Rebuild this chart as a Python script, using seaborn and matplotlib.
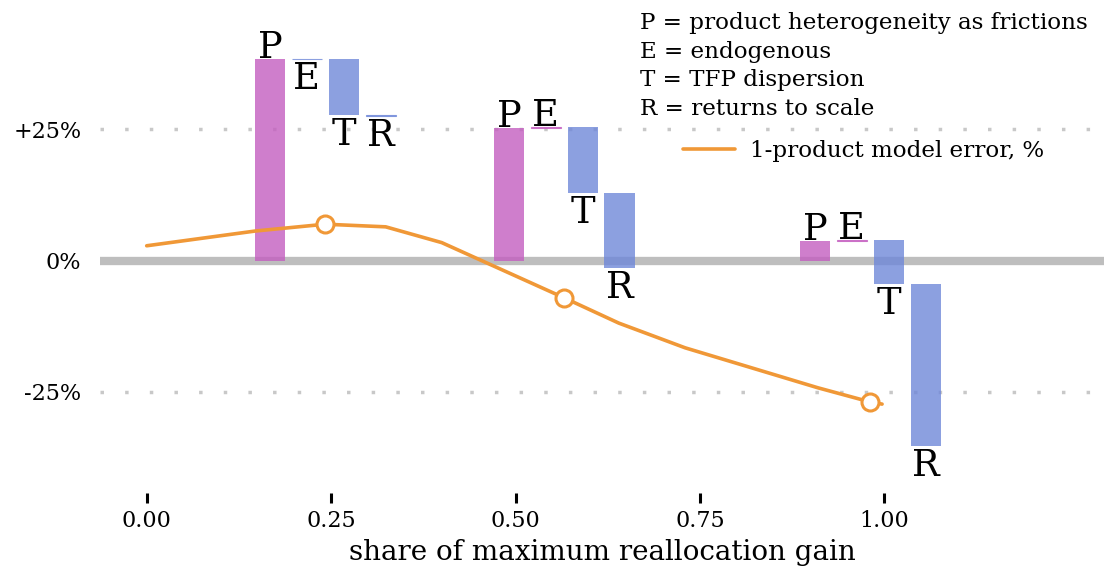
import matplotlib
matplotlib.use("Agg")
import matplotlib.pyplot as plt
import seaborn as sns
import pandas as pd
from matplotlib.ticker import FuncFormatter

# Descomposición tipo cascada (puntos %), tres escenarios
group_x = [0.242, 0.566, 0.981]
letters = ["P", "E", "T", "R"]
effects_g1 = [38.4, -0.15, -10.5, -0.2]
effects_g2 = [25.2, 0.15, -12.45, -14.3]
effects_g3 = [3.7, 0.2, -8.4, -30.7]

# Error del modelo de 1 producto
err_x = [0.0, 0.147, 0.242, 0.324, 0.40, 0.566, 0.64, 0.73, 0.82, 0.91, 0.981, 0.997]
err_y = [2.8, 5.6, 6.9, 6.4, 3.4, -7.1, -11.9, -16.6, -20.4, -24.2, -26.9, -27.3]
marker_x = [0.242, 0.566, 0.981]
marker_y = [6.9, -7.1, -26.9]

legend_lines = ["P = product heterogeneity as frictions",
                "E = endogenous",
                "T = TFP dispersion",
                "R = returns to scale"]

PINK = "#c45ec0"
BLUE = "#6f88d9"
ORANGE = "#f09837"

# construir tabla de barras flotantes
rows = []
for gx, effs in zip(group_x, [effects_g1, effects_g2, effects_g3]):
    start = 0.0
    for i, (let, eff) in enumerate(zip(letters, effs)):
        rows.append({"x": gx + (i - 1.5) * 0.05, "letra": let,
                     "inicio": start, "efecto": eff})
        start += eff
bars = pd.DataFrame(rows)
line_df = pd.DataFrame({"x": err_x, "error": err_y})
mark_df = pd.DataFrame({"x": marker_x, "error": marker_y})

sns.set_theme(style="white")
plt.rcParams["font.family"] = ["DejaVu Serif"]

W, H = 1104, 573
fig = plt.figure(figsize=(W / 100, H / 100), dpi=100)
ax = fig.add_axes([100 / W, 80 / H, 1004 / W, 493 / H])

x0, px_unit = 146.7, 737.6
ax.set_xlim((100 - x0) / px_unit, (W - x0) / px_unit)
y0, px_pct = 260.5, 5.26
ax.set_ylim((y0 - 493) / px_pct, y0 / px_pct)

# líneas de referencia
ax.axhline(0, color="#bebebe", lw=6, zorder=1)
for g in (-25, 25):
    ax.axhline(g, color="#c8c8c8", lw=2.5, linestyle=(0, (1, 6.1)), zorder=0)

# barras
for _, r in bars.iterrows():
    col = PINK if r["efecto"] >= 0 else BLUE
    tiny = abs(r["efecto"]) < 1
    ax.bar(r["x"], r["efecto"], bottom=r["inicio"], width=0.0407,
           color=col, alpha=0.8, edgecolor=col if tiny else "none",
           linewidth=0.8 if tiny else 0, zorder=2)
    top = r["inicio"] + r["efecto"]
    if r["efecto"] >= 0:
        ax.annotate(r["letra"], (r["x"], top), xytext=(0, 0.5),
                    textcoords="offset points", ha="center", va="baseline",
                    fontsize=26.5, color="black", zorder=4)
    else:
        ax.annotate(r["letra"], (r["x"], top), xytext=(0, -1.5),
                    textcoords="offset points", ha="center", va="top",
                    fontsize=26.5, color="black", zorder=4)

# línea de error
sns.lineplot(data=line_df, x="x", y="error", color=ORANGE, lw=2.6,
             ax=ax, zorder=3, label="1-product model error, %")
sns.scatterplot(data=mark_df, x="x", y="error", s=150, facecolor="white",
                edgecolor=ORANGE, linewidth=2.2, ax=ax, zorder=5)

# ejes
for s in ax.spines.values():
    s.set_visible(False)
ax.set_xticks([0, 0.25, 0.5, 0.75, 1.0])
ax.xaxis.set_major_formatter(FuncFormatter(lambda v, p: f"{v:.2f}"))
ax.set_yticks([-25, 0, 25])
ax.set_yticklabels(["-25%", "0%", "+25%"])
ax.tick_params(axis="x", bottom=True, length=7.5, width=2.2, color="black",
               direction="out", pad=5, labelsize=16, labelcolor="black")
ax.tick_params(axis="y", left=False, length=0, pad=13.5, labelsize=16,
               labelcolor="black")
ax.set_xlabel("share of maximum reallocation gain", fontsize=20, color="black",
              labelpad=5)
ax.set_ylabel("")
ax.grid(False)

# leyenda
for i, txt in enumerate(legend_lines):
    fig.text(640 / W, 1 - (29 + i * 28.7) / H, txt, fontsize=16.6,
             va="baseline", ha="left", color="black")
ax.legend(loc="center left", bbox_to_anchor=(683 / W, 1 - 151 / H),
          bbox_transform=fig.transFigure, frameon=False, fontsize=16.6,
          labelcolor="black", handlelength=2.26, handletextpad=0.65,
          borderpad=0, borderaxespad=0)

fig.savefig("out.png", dpi=100)
